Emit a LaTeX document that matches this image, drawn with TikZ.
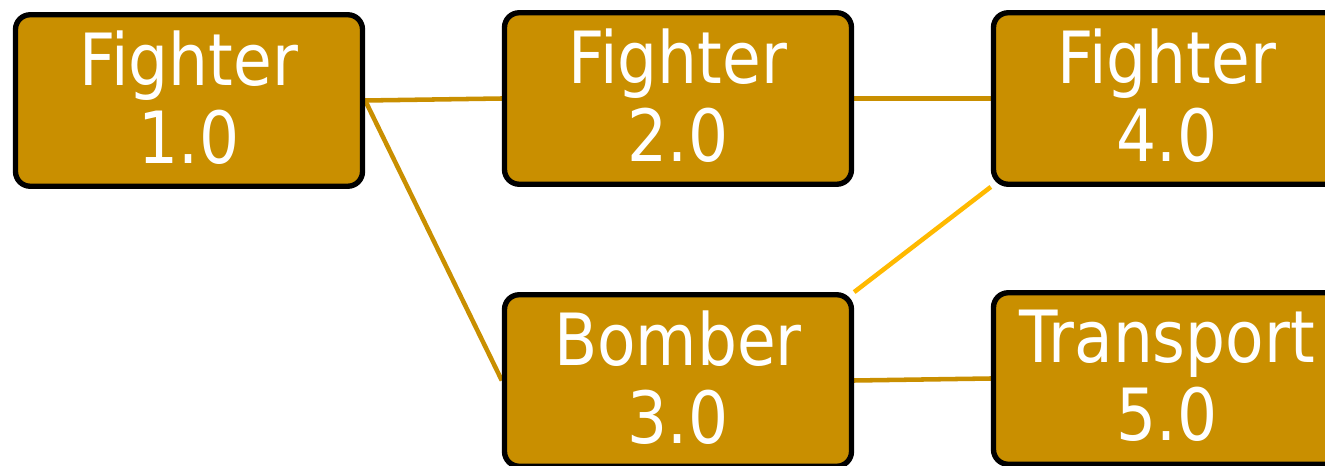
\documentclass[tikz,border=0pt]{standalone}
\usepackage{fontspec}
\setmainfont{DejaVu Sans}[FakeStretch=0.875]
\usetikzlibrary{backgrounds}
\definecolor{gold}{RGB}{201,143,0}
\definecolor{brightgold}{RGB}{255,185,0}
\tikzset{
  unitbox/.style={draw=black, line width=4pt, fill=gold, rounded corners=11pt,
    minimum width=347*0.75pt, minimum height=171.5*0.75pt, inner sep=0pt,
    text=white, align=center, text depth=4.5pt, font=\fontsize{54}{58.5}\selectfont},
  link/.style={draw=gold, line width=3.4pt},
  hilink/.style={draw=brightgold, line width=3.4pt}
}
\begin{document}
\begin{tikzpicture}[x=0.75pt,y=-0.75pt]
\useasboundingbox (0,0) rectangle (1325,466);
\node[unitbox] (f1) at (189,100.5) {Fighter\\1.0};
\node[unitbox] (f2) at (678,98.5) {Fighter\\2.0};
\node[unitbox] (f4) at (1167,98.5) {Fighter\\4.0};
\node[unitbox] (b3) at (678,380.5) {Bomber\\3.0};
\node[unitbox] (t5) at (1167,378.5) {Transport\\5.0};
\begin{scope}[on background layer]
\draw[link] (f1.east) -- (f2.west);
\draw[link] (f1.east) -- (b3.west);
\draw[link] (f2.east) -- (f4.west);
\draw[hilink] (b3.north east) -- (f4.south west);
\draw[link] (b3.east) -- (t5.west);
\end{scope}
\end{tikzpicture}
\end{document}
